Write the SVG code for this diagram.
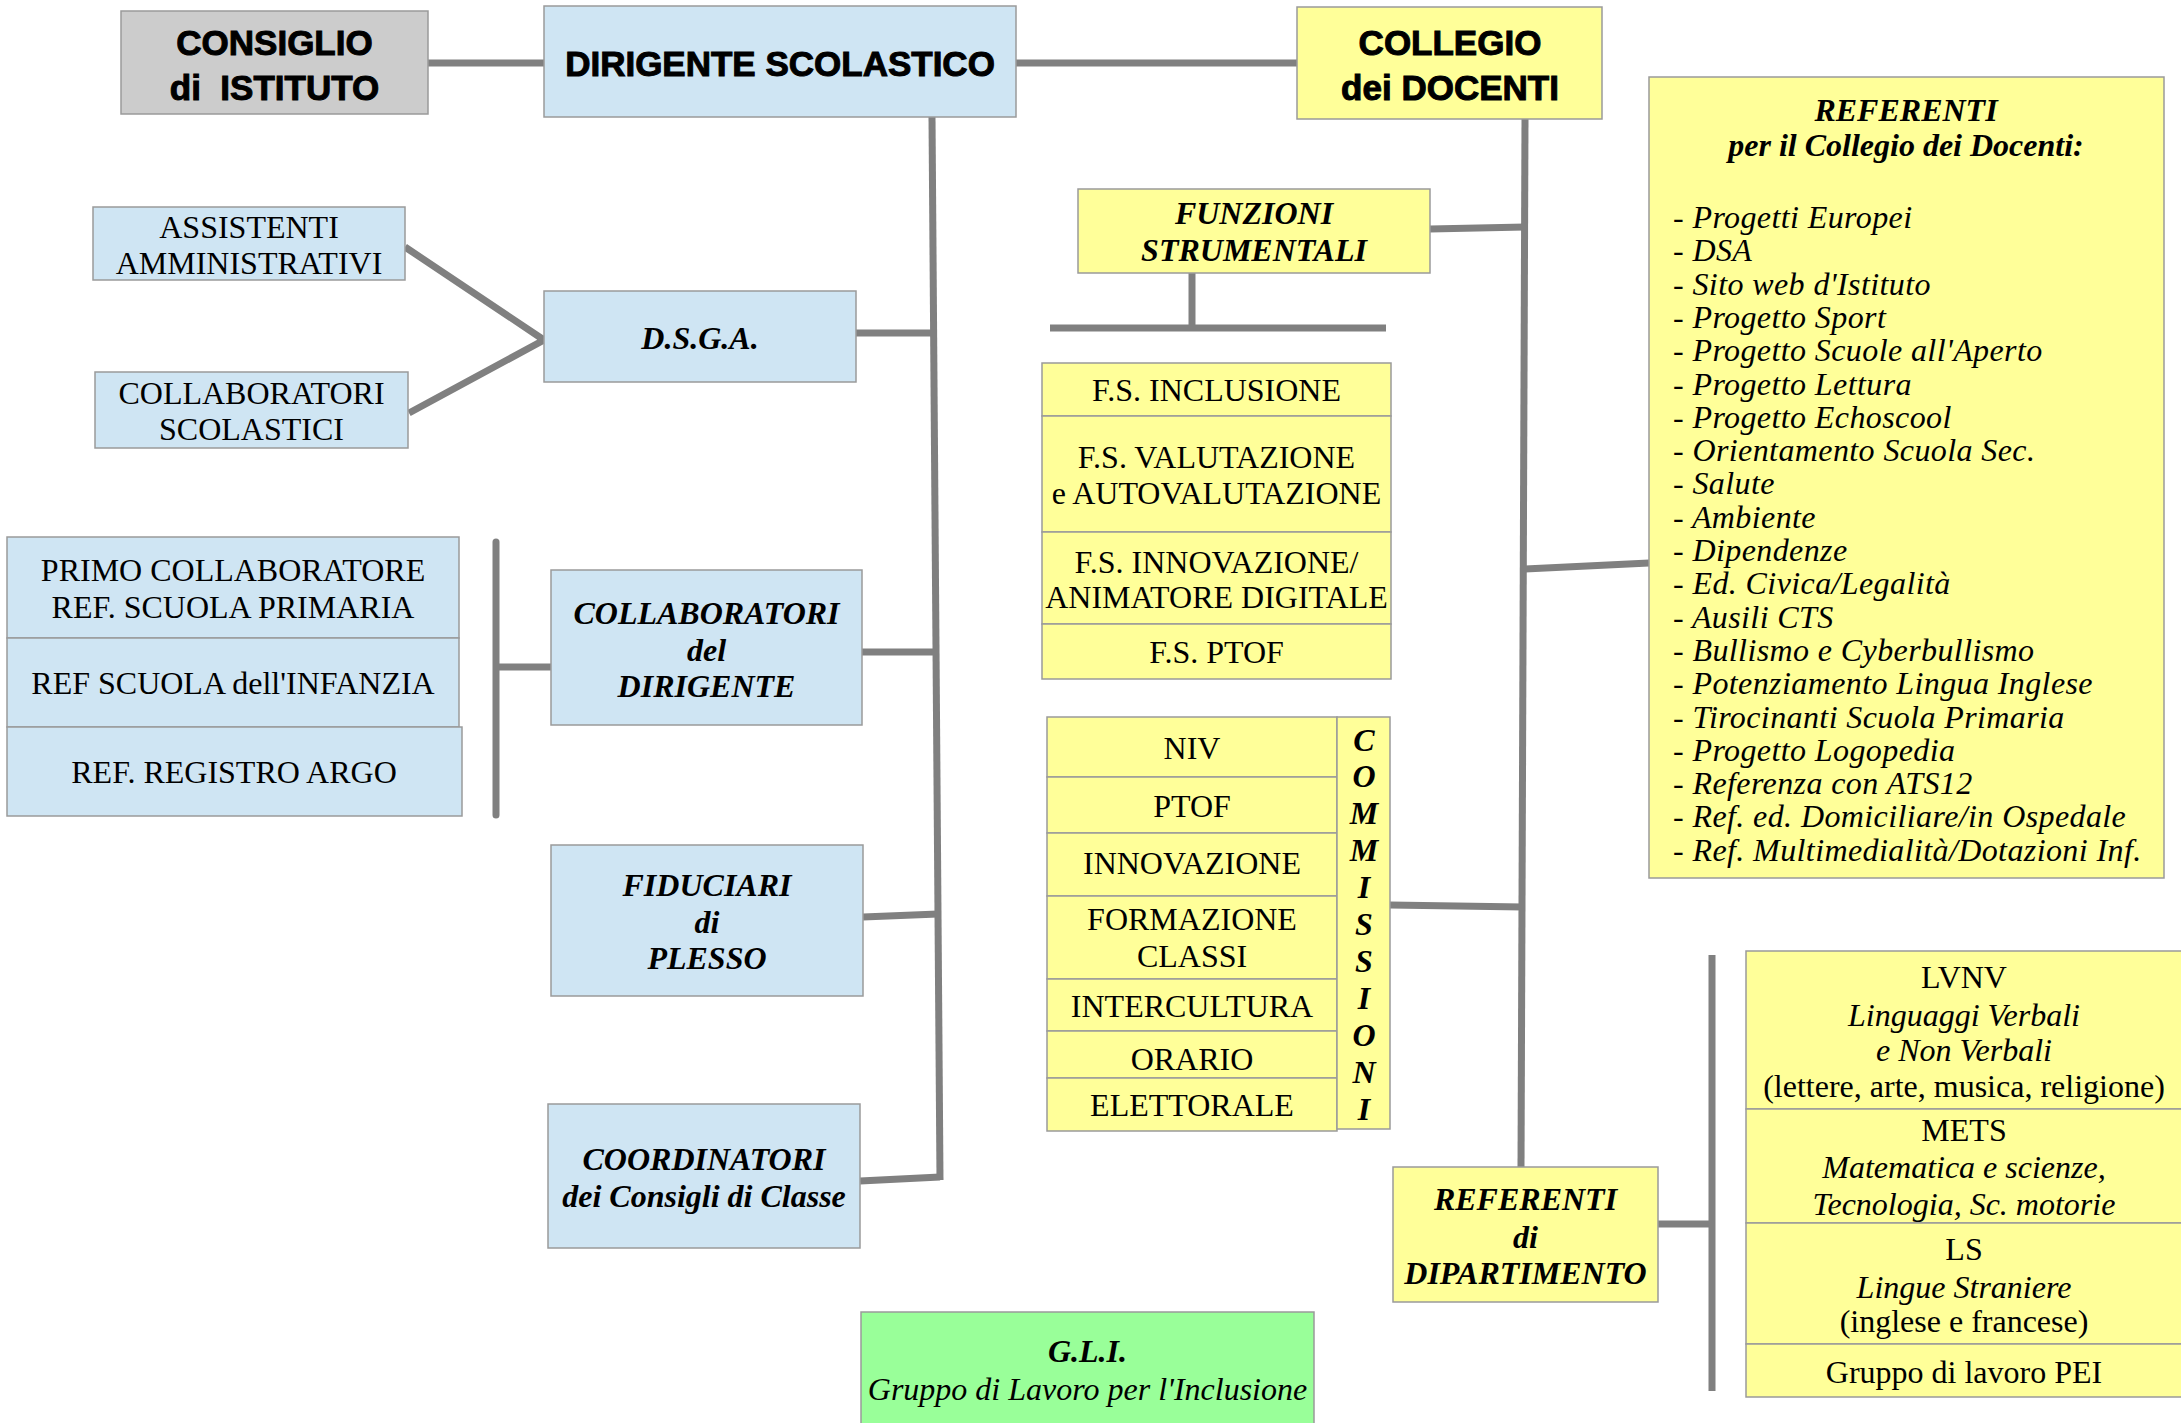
<svg xmlns="http://www.w3.org/2000/svg" width="2181" height="1423" viewBox="0 0 2181 1423">
<style>
.box{stroke:#9a9a9a;stroke-width:1.5}
.blue{fill:#cfe5f3}
.yel{fill:#ffff99}
.gray{fill:#cccccc}
.green{fill:#99ff99}
.conn{stroke:#808080;stroke-width:7;fill:none}
.s{font-family:"Liberation Serif","Times New Roman",serif;font-size:32px;text-anchor:middle;fill:#000}
.l{text-anchor:start;letter-spacing:0.4px}
.bi{font-weight:bold;font-style:italic}
.i{font-style:italic}
.h{font-family:"Liberation Sans",Arial,sans-serif;font-weight:bold;font-size:35px;text-anchor:middle;fill:#000;stroke:#000;stroke-width:1}
</style>
<rect width="2181" height="1423" fill="#ffffff"/>
<g id="connectors">
<line class="conn" x1="428" y1="63" x2="544" y2="63"/>
<line class="conn" x1="1016" y1="63" x2="1297" y2="63"/>
<line class="conn" x1="932" y1="117" x2="940" y2="1180"/>
<line class="conn" x1="856" y1="333" x2="933" y2="333"/>
<polyline class="conn" points="405,247 544,340 409,413"/>
<line class="conn" x1="862" y1="652" x2="937" y2="652"/>
<line class="conn" x1="863" y1="917" x2="938" y2="914"/>
<line class="conn" x1="860" y1="1181" x2="940" y2="1177"/>
<line class="conn" x1="496" y1="542" x2="496" y2="815" stroke-linecap="round"/>
<line class="conn" x1="496" y1="667" x2="551" y2="667"/>
<line class="conn" x1="1525" y1="119" x2="1521" y2="1167"/>
<line class="conn" x1="1430" y1="229" x2="1525" y2="227"/>
<line class="conn" x1="1192" y1="273" x2="1192" y2="328"/>
<line class="conn" x1="1050" y1="328" x2="1386" y2="328"/>
<line class="conn" x1="1390" y1="905" x2="1523" y2="907"/>
<line class="conn" x1="1525" y1="569" x2="1649" y2="563"/>
<line class="conn" x1="1658" y1="1224" x2="1712" y2="1224"/>
<line class="conn" x1="1712" y1="955" x2="1712" y2="1391"/>
</g>
<g id="consiglio">
<rect class="box gray" x="121" y="11" width="307" height="103"/>
<text class="h" x="274.5" y="54.5">CONSIGLIO</text>
<text class="h" x="274.5" y="99.5">di&#160; ISTITUTO</text>
</g>
<g id="dirigente">
<rect class="box blue" x="544" y="6" width="472" height="111"/>
<text class="h" x="780" y="75.5">DIRIGENTE SCOLASTICO</text>
</g>
<g id="collegio">
<rect class="box yel" x="1297" y="7" width="305" height="112"/>
<text class="h" x="1450" y="54.5">COLLEGIO</text>
<text class="h" x="1450" y="99.5">dei DOCENTI</text>
</g>
<g id="assistenti">
<rect class="box blue" x="93" y="207" width="312" height="73"/>
<text class="s" x="249" y="237.5">ASSISTENTI</text>
<text class="s" x="249" y="273.5">AMMINISTRATIVI</text>
</g>
<g id="collaboratori-scolastici">
<rect class="box blue" x="95" y="372" width="313" height="76"/>
<text class="s" x="251.5" y="403.5">COLLABORATORI</text>
<text class="s" x="251.5" y="439.5">SCOLASTICI</text>
</g>
<g id="dsga">
<rect class="box blue" x="544" y="291" width="312" height="91"/>
<text class="s bi" x="700" y="348.5">D.S.G.A.</text>
</g>
<g id="collaboratori-list">
<rect class="box blue" x="7" y="537" width="452" height="101"/>
<rect class="box blue" x="7" y="638" width="452" height="89"/>
<rect class="box blue" x="7" y="727" width="455" height="89"/>
<text class="s" x="233" y="580.5">PRIMO COLLABORATORE</text>
<text class="s" x="233" y="617.5">REF. SCUOLA PRIMARIA</text>
<text class="s" x="233" y="693.5">REF SCUOLA dell'INFANZIA</text>
<text class="s" x="234" y="782.5">REF. REGISTRO ARGO</text>
</g>
<g id="collaboratori-dirigente">
<rect class="box blue" x="551" y="570" width="311" height="155"/>
<text class="s bi" x="706.5" y="623.5">COLLABORATORI</text>
<text class="s bi" x="706.5" y="660.5">del</text>
<text class="s bi" x="706.5" y="696.5">DIRIGENTE</text>
</g>
<g id="fiduciari">
<rect class="box blue" x="551" y="845" width="312" height="151"/>
<text class="s bi" x="707" y="895.5">FIDUCIARI</text>
<text class="s bi" x="707" y="932.5">di</text>
<text class="s bi" x="707" y="968.5">PLESSO</text>
</g>
<g id="coordinatori">
<rect class="box blue" x="548" y="1104" width="312" height="144"/>
<text class="s bi" x="704" y="1169.5">COORDINATORI</text>
<text class="s bi" x="704" y="1206.5">dei Consigli di Classe</text>
</g>
<g id="gli">
<rect class="box green" x="861" y="1312" width="453" height="120"/>
<text class="s bi" x="1087.5" y="1361.5">G.L.I.</text>
<text class="s i" x="1087.5" y="1399.5">Gruppo di Lavoro per l'Inclusione</text>
</g>
<g id="funzioni">
<rect class="box yel" x="1078" y="189" width="352" height="84"/>
<text class="s bi" x="1254" y="223.5">FUNZIONI</text>
<text class="s bi" x="1254" y="260.5">STRUMENTALI</text>
</g>
<g id="fs-list">
<rect class="box yel" x="1042" y="363" width="349" height="53"/>
<rect class="box yel" x="1042" y="416" width="349" height="116"/>
<rect class="box yel" x="1042" y="532" width="349" height="92"/>
<rect class="box yel" x="1042" y="624" width="349" height="55"/>
<text class="s" x="1216.5" y="400.5">F.S. INCLUSIONE</text>
<text class="s" x="1216.5" y="467.5">F.S. VALUTAZIONE</text>
<text class="s" x="1216.5" y="503.5">e AUTOVALUTAZIONE</text>
<text class="s" x="1216.5" y="572.5">F.S. INNOVAZIONE/</text>
<text class="s" x="1216.5" y="607.5">ANIMATORE DIGITALE</text>
<text class="s" x="1216.5" y="662.5">F.S. PTOF</text>
</g>
<g id="commissioni">
<rect class="box yel" x="1047" y="717" width="290" height="60"/>
<rect class="box yel" x="1047" y="777" width="290" height="56"/>
<rect class="box yel" x="1047" y="833" width="290" height="63"/>
<rect class="box yel" x="1047" y="896" width="290" height="83"/>
<rect class="box yel" x="1047" y="979" width="290" height="52"/>
<rect class="box yel" x="1047" y="1031" width="290" height="47"/>
<rect class="box yel" x="1047" y="1078" width="290" height="53"/>
<rect class="box yel" x="1337" y="717" width="53" height="412"/>
<text class="s" x="1192" y="758.5">NIV</text>
<text class="s" x="1192" y="816.5">PTOF</text>
<text class="s" x="1192" y="873.5">INNOVAZIONE</text>
<text class="s" x="1192" y="929.5">FORMAZIONE</text>
<text class="s" x="1192" y="966.5">CLASSI</text>
<text class="s" x="1192" y="1016.5">INTERCULTURA</text>
<text class="s" x="1192" y="1069.5">ORARIO</text>
<text class="s" x="1192" y="1115.5">ELETTORALE</text>
<text class="s bi" x="1364" y="750.5">C</text>
<text class="s bi" x="1364" y="787.4">O</text>
<text class="s bi" x="1364" y="824.3">M</text>
<text class="s bi" x="1364" y="861.2">M</text>
<text class="s bi" x="1364" y="898.1">I</text>
<text class="s bi" x="1364" y="935">S</text>
<text class="s bi" x="1364" y="971.9">S</text>
<text class="s bi" x="1364" y="1008.8">I</text>
<text class="s bi" x="1364" y="1045.7">O</text>
<text class="s bi" x="1364" y="1082.6">N</text>
<text class="s bi" x="1364" y="1119.5">I</text>
</g>
<g id="referenti-collegio">
<rect class="box yel" x="1649" y="77" width="515" height="801"/>
<text class="s bi" x="1906" y="120.5">REFERENTI</text>
<text class="s bi" x="1906" y="156">per il Collegio dei Docenti:</text>
<text class="s i l" x="1673" y="228">- Progetti Europei</text>
<text class="s i l" x="1673" y="261.3">- DSA</text>
<text class="s i l" x="1673" y="294.6">- Sito web d'Istituto</text>
<text class="s i l" x="1673" y="327.9">- Progetto Sport</text>
<text class="s i l" x="1673" y="361.2">- Progetto Scuole all'Aperto</text>
<text class="s i l" x="1673" y="394.5">- Progetto Lettura</text>
<text class="s i l" x="1673" y="427.8">- Progetto Echoscool</text>
<text class="s i l" x="1673" y="461.1">- Orientamento Scuola Sec.</text>
<text class="s i l" x="1673" y="494.4">- Salute</text>
<text class="s i l" x="1673" y="527.7">- Ambiente</text>
<text class="s i l" x="1673" y="561">- Dipendenze</text>
<text class="s i l" x="1673" y="594.3">- Ed. Civica/Legalità</text>
<text class="s i l" x="1673" y="627.6">- Ausili CTS</text>
<text class="s i l" x="1673" y="660.9">- Bullismo e Cyberbullismo</text>
<text class="s i l" x="1673" y="694.2">- Potenziamento Lingua Inglese</text>
<text class="s i l" x="1673" y="727.5">- Tirocinanti Scuola Primaria</text>
<text class="s i l" x="1673" y="760.8">- Progetto Logopedia</text>
<text class="s i l" x="1673" y="794.1">- Referenza con ATS12</text>
<text class="s i l" x="1673" y="827.4">- Ref. ed. Domiciliare/in Ospedale</text>
<text class="s i l" x="1673" y="860.7">- Ref. Multimedialità/Dotazioni Inf.</text>
</g>
<g id="referenti-dipartimento">
<rect class="box yel" x="1393" y="1167" width="265" height="135"/>
<text class="s bi" x="1525.5" y="1209.5">REFERENTI</text>
<text class="s bi" x="1525.5" y="1247.5">di</text>
<text class="s bi" x="1525.5" y="1283.5">DIPARTIMENTO</text>
</g>
<g id="dipartimenti">
<rect class="box yel" x="1746" y="951" width="450" height="158"/>
<rect class="box yel" x="1746" y="1109" width="450" height="114"/>
<rect class="box yel" x="1746" y="1223" width="450" height="121"/>
<rect class="box yel" x="1746" y="1344" width="450" height="53"/>
<text class="s" x="1964" y="987.5">LVNV</text>
<text class="s i" x="1964" y="1025.5">Linguaggi Verbali</text>
<text class="s i" x="1964" y="1060.5">e Non Verbali</text>
<text class="s" x="1964" y="1096.5">(lettere, arte, musica, religione)</text>
<text class="s" x="1964" y="1140.5">METS</text>
<text class="s i" x="1964" y="1177.5">Matematica e scienze,</text>
<text class="s i" x="1964" y="1214.5">Tecnologia, Sc. motorie</text>
<text class="s" x="1964" y="1259.5">LS</text>
<text class="s i" x="1964" y="1297.5">Lingue Straniere</text>
<text class="s" x="1964" y="1331.5">(inglese e francese)</text>
<text class="s" x="1964" y="1382.5">Gruppo di lavoro PEI</text>
</g>
</svg>
